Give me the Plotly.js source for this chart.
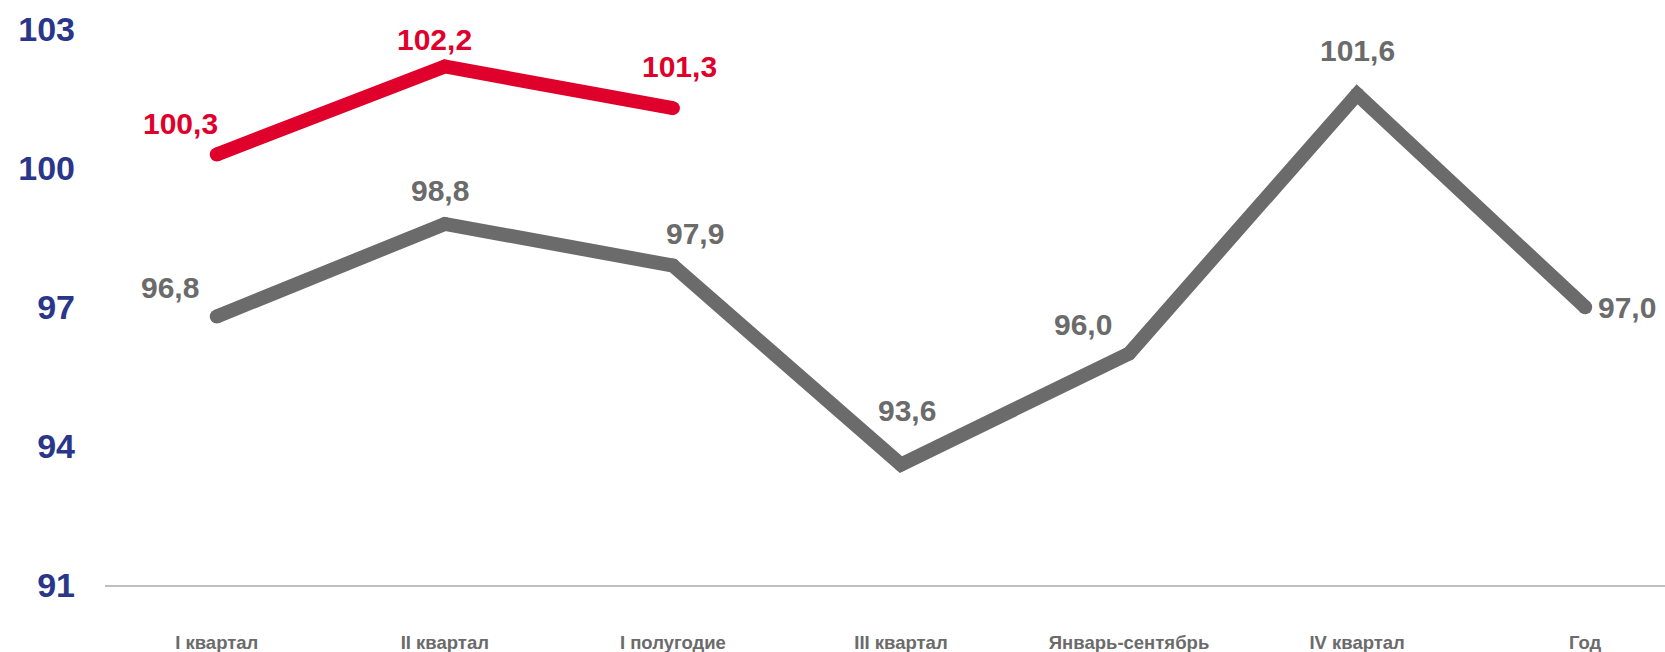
<!DOCTYPE html>
<html>
<head>
<meta charset="utf-8">
<script src="https://cdn.plot.ly/plotly-3.0.1.min.js"></script>
<style>
html,body{margin:0;padding:0;background:#fff;}
#chart{width:1665px;height:652px;}
</style>
</head>
<body>
<div id="chart"></div>
<script>
var categories = ["I квартал","II квартал","I полугодие","III квартал","Январь-сентябрь","IV квартал","Год"];
var grayValues = [96.8, 98.8, 97.9, 93.6, 96.0, 101.6, 97.0];
var redCategories = ["I квартал","II квартал","I полугодие"];
var redValues = [100.3, 102.2, 101.3];
var yTicks = [91, 94, 97, 100, 103];

var GRAY = "#6b6b6b", RED = "#df002c", NAVY = "#29368a";
var grayShift = [[-47,29],[-5,33],[22,32],[6,54],[-46,29],[0,44],[42,0]];
var redShift = [[-36,31],[-10,27],[7,42]];

function fmt(v){ return v.toFixed(1).replace(".", ","); }

var traces = [
  {x: categories, y: grayValues, type: "scatter", mode: "lines+markers",
   line: {color: GRAY, width: 14}, marker: {color: GRAY, size: 14}, hoverinfo: "skip"},
  {x: redCategories, y: redValues, type: "scatter", mode: "lines+markers",
   line: {color: RED, width: 14}, marker: {color: RED, size: 14}, hoverinfo: "skip"}
];

var annotations = [];
grayValues.forEach(function(v,i){
  annotations.push({x: categories[i], y: v, text: fmt(v), showarrow: false,
    xshift: grayShift[i][0], yshift: grayShift[i][1],
    font: {family: "Liberation Sans, Arial, sans-serif", size: 30, color: GRAY, weight: "bold"}});
});
redValues.forEach(function(v,i){
  annotations.push({x: redCategories[i], y: v, text: fmt(v), showarrow: false,
    xshift: redShift[i][0], yshift: redShift[i][1],
    font: {family: "Liberation Sans, Arial, sans-serif", size: 30, color: RED, weight: "bold"}});
});

var layout = {
  width: 1665, height: 652,
  margin: {l: 105, r: 0, t: 10, b: 67},
  paper_bgcolor: "#fff", plot_bgcolor: "#fff",
  showlegend: false,
  xaxis: {
    type: "category", categoryorder: "array", categoryarray: categories,
    range: [-0.49, 6.35], showgrid: false, zeroline: false,
    showline: true, linecolor: "#bfbfbf", linewidth: 2,
    ticks: "", ticklabelstandoff: 40,
    tickfont: {family: "Liberation Sans Narrow, Arial Narrow, sans-serif", size: 18.5, color: GRAY, weight: "bold"}
  },
  yaxis: {
    range: [91, 103.42], tickvals: yTicks, ticktext: yTicks.map(String),
    showgrid: false, zeroline: false, showline: false, ticks: "",
    ticklabelstandoff: 29,
    tickfont: {family: "Liberation Sans, Arial, sans-serif", size: 34, color: NAVY, weight: "bold"}
  },
  annotations: annotations
};

Plotly.newPlot("chart", traces, layout, {displayModeBar: false, staticPlot: true});
</script>
</body>
</html>
